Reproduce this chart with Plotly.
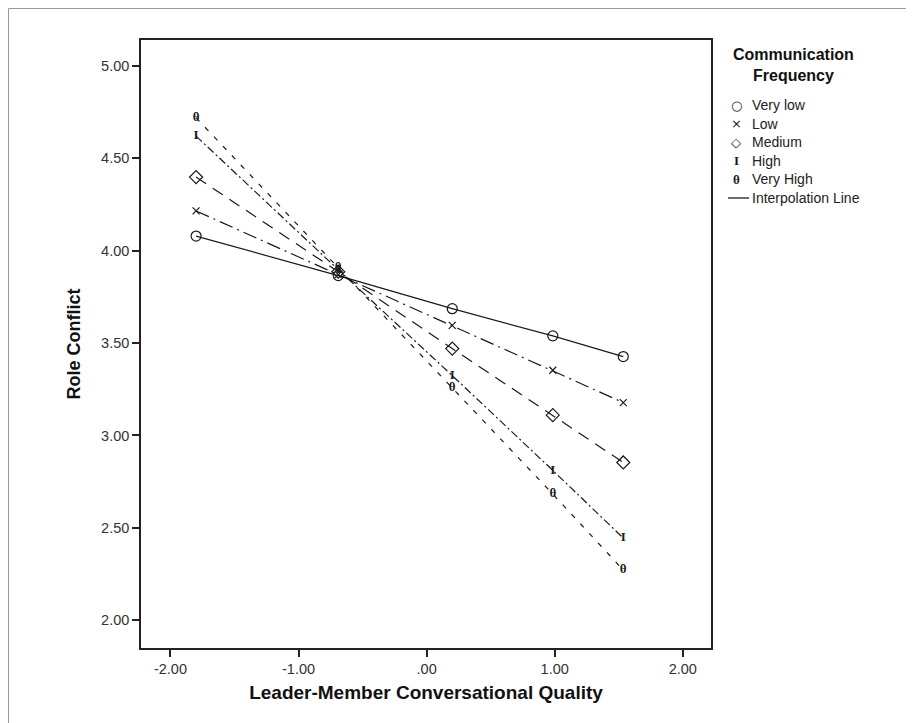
import plotly.graph_objects as go

# ---------------- data ----------------
x_vals = [-1.80, -0.69, 0.20, 0.985, 1.535]
very_low = [4.079, 3.865, 3.686, 3.539, 3.427]
low = [4.215, 3.870, 3.596, 3.353, 3.178]
medium = [4.398, 3.886, 3.470, 3.110, 2.854]
high = [4.620, 3.897, 3.324, 2.811, 2.445]
very_high = [4.719, 3.908, 3.259, 2.683, 2.272]
series_names = ["Very low", "Low", "Medium", "High", "Very High"]
legend_title = "Communication<br>Frequency"
interp_label = "Interpolation Line"
x_ticks = [-2, -1, 0, 1, 2]
x_tick_labels = ["-2.00", "-1.00", ".00", "1.00", "2.00"]
y_ticks = [2.0, 2.5, 3.0, 3.5, 4.0, 4.5, 5.0]
y_tick_labels = ["2.00", "2.50", "3.00", "3.50", "4.00", "4.50", "5.00"]
x_title = "Leader-Member Conversational Quality"
y_title = "Role Conflict"

series_values = [very_low, low, medium, high, very_high]

# ---------------- styles ----------------
W, H = 914, 723
L, R, T, B = 133, 211, 32, 83
PW, PH = W - L - R, H - T - B
INK = "#1a1a1a"
FONT = "Liberation Sans, Arial, sans-serif"
SERIF = "Liberation Serif, Times New Roman, serif"

dashes = ["solid", "14px,5px,2px,5px", "12px,8px", "8px,3px,2px,3px", "5px,8px"]
# marker spec: ("symbol", name) or ("text", glyph)
markers = [("symbol", "circle-open"), ("symbol", "x-thin-open"),
           ("symbol", "diamond-open"), ("text", "I"), ("text", "θ")]
legend_glyphs = ["○", "×", "◇", "I", "θ"]

fig = go.Figure()
for name, vals, dash, mk in zip(series_names, series_values, dashes, markers):
    fig.add_trace(go.Scatter(
        x=x_vals, y=vals, mode="lines", name=name, showlegend=False,
        line=dict(color=INK, width=1.2, dash=dash), hoverinfo="skip"))
    if mk[0] == "symbol":
        fig.add_trace(go.Scatter(
            x=x_vals, y=vals, mode="markers", name=name, showlegend=False,
            marker=dict(symbol=mk[1], size=10 if mk[1] != "x-thin-open" else 7,
                        color=INK, line=dict(color=INK, width=1.2))))
    else:
        fig.add_trace(go.Scatter(
            x=x_vals, y=vals, mode="text", name=name, showlegend=False,
            text=["<b>" + mk[1] + "</b>"] * len(x_vals), textposition="middle center",
            textfont=dict(family=SERIF, size=13, color=INK)))

def px_to_paper(px, py):
    return (px - L) / PW, (H - B - py) / PH

annotations = []
# legend title
tx, ty = px_to_paper(785, 57)
annotations.append(dict(x=tx, y=ty, xref="paper", yref="paper", text="<b>" + legend_title + "</b>",
                        showarrow=False, xanchor="center", yanchor="middle", align="center",
                        font=dict(family=FONT, size=16, color="#111")))
row0, step = 97, 18.6
for i, (name, glyph) in enumerate(zip(series_names, legend_glyphs)):
    gx, gy = px_to_paper(728, row0 + i * step)
    fam = SERIF if glyph in ("I", "θ") else "DejaVu Sans, sans-serif"
    txt = "<b>" + glyph + "</b>" if glyph in ("I", "θ") else glyph
    annotations.append(dict(x=gx, y=gy, xref="paper", yref="paper", text=txt, showarrow=False,
                            xanchor="center", yanchor="middle",
                            font=dict(family=fam, size=13, color=INK)))
    lx, ly = px_to_paper(742, row0 + i * step)
    annotations.append(dict(x=lx, y=ly, xref="paper", yref="paper", text=name, showarrow=False,
                            xanchor="left", yanchor="middle",
                            font=dict(family=FONT, size=14, color="#222")))
lx, ly = px_to_paper(742, row0 + 5 * step)
annotations.append(dict(x=lx, y=ly, xref="paper", yref="paper", text=interp_label, showarrow=False,
                        xanchor="left", yanchor="middle", font=dict(family=FONT, size=14, color="#222")))
s0x, s0y = px_to_paper(720, row0 + 5 * step)
s1x, _ = px_to_paper(741, row0 + 5 * step)

shapes = [
    dict(type="line", xref="paper", yref="paper", x0=s0x, x1=s1x, y0=s0y, y1=s0y,
         line=dict(color=INK, width=1.3)),
    dict(type="rect", xref="paper", yref="paper",
         x0=(0.5 - L) / PW, x1=(W - 0.5 - L) / PW,
         y0=-(B - 0.5) / PH, y1=1 + (T - 0.5) / PH,
         line=dict(color="#9a9a9a", width=1)),
]

axis_common = dict(showgrid=False, zeroline=False, showline=True, linecolor="#222",
                   linewidth=1.5, mirror=True, ticks="outside", tickcolor="#222",
                   tickwidth=1.5, automargin=False,
                   tickfont=dict(family=FONT, size=14.5, color="#333"))

fig.update_layout(
    width=W, height=H, margin=dict(l=L, r=R, t=T, b=B),
    plot_bgcolor="white", paper_bgcolor="white", showlegend=False,
    annotations=annotations, shapes=shapes,
    xaxis=dict(range=[-2.23, 2.22], tickvals=x_ticks, ticktext=x_tick_labels, ticklen=7,
               title=dict(text="<b>" + x_title + "</b>", standoff=10,
                          font=dict(family=FONT, size=19, color="#111")), **axis_common),
    yaxis=dict(range=[1.85, 5.14], tickvals=y_ticks, ticktext=y_tick_labels, ticklen=7,
               title=dict(text="<b>" + y_title + "</b>", standoff=16,
                          font=dict(family=FONT, size=18, color="#111")), **axis_common),
)

fig.write_html("out.html")
